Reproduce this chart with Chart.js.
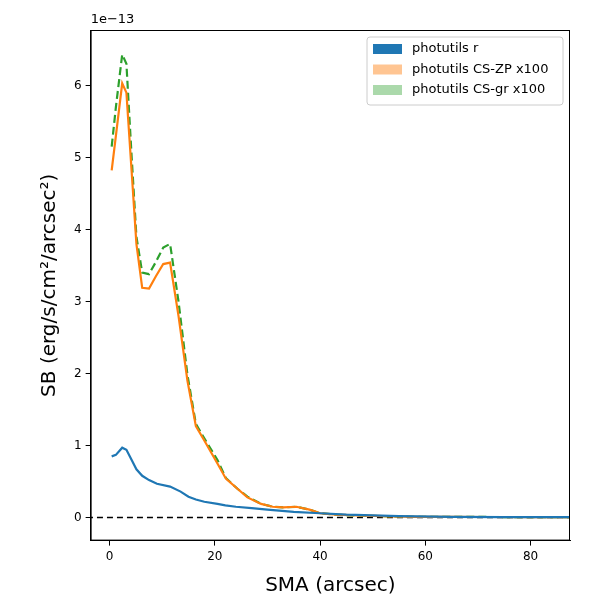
<!DOCTYPE html>
<html><head><meta charset="utf-8">
<script src="https://cdn.jsdelivr.net/npm/chart.js@4"></script>
<style>body{margin:0;background:#fff}#wrap{width:600px;height:600px}</style>
</head><body><div id="wrap"><canvas id="c"></canvas></div>
<script>
// values in units of 1e-13
const smaCS = [0.4, 1.2, 2.4, 3.2, 4.2, 5.1, 6.2, 7.5, 8.8, 10.2, 11.5, 13.1, 14.8, 16.4, 18, 20.5, 22.1, 24.3, 26.2, 28.8, 31, 33, 35.5, 38, 40, 43, 47, 52, 58, 65, 72, 80, 88];
const csZP = [4.82, 5.3, 6.03, 5.9, 4.8, 3.8, 3.19, 3.18, 3.35, 3.52, 3.54, 2.8, 1.9, 1.27, 1.07, 0.75, 0.54, 0.40, 0.28, 0.19, 0.15, 0.14, 0.15, 0.11, 0.06, 0.04, 0.03, 0.02, 0.01, 0.01, 0.008, 0.006, 0.005];
const csGR = [5.15, 5.7, 6.43, 6.3, 5.0, 3.9, 3.40, 3.38, 3.55, 3.75, 3.80, 3.0, 1.98, 1.30, 1.10, 0.80, 0.55, 0.40, 0.29, 0.19, 0.15, 0.14, 0.15, 0.11, 0.06, 0.04, 0.03, 0.02, 0.01, 0.01, 0.008, 0.006, 0.005];
const smaR = [0.4, 1.2, 2.4, 3.2, 4.2, 5.1, 6.2, 7.5, 9, 11.5, 13.5, 15, 16.4, 18, 20.5, 22, 24, 27, 30, 35, 40, 45, 55, 65, 75, 88];
const photR = [0.85, 0.87, 0.97, 0.94, 0.80, 0.67, 0.58, 0.52, 0.47, 0.43, 0.36, 0.29, 0.25, 0.22, 0.19, 0.17, 0.15, 0.13, 0.11, 0.08, 0.06, 0.04, 0.02, 0.01, 0.007, 0.005];
const yTicks = [0, 1, 2, 3, 4, 5, 6];
const xTicks = [0, 20, 40, 60, 80];

const pts = (xs, ys) => xs.map((x, i) => ({x: x, y: ys[i]}));

// frame, exponent label and legend, drawn by hand like matplotlib
const decor = {
  id: 'decor',
  afterDraw(chart) {
    const {ctx, chartArea: a} = chart;
    ctx.save();
    ctx.strokeStyle = '#000';
    ctx.lineWidth = 1;
    ctx.strokeRect(a.left + 0.5, a.top + 0.5, a.right - a.left - 1, a.bottom - a.top - 1);
    ctx.font = '13px DejaVu Sans';
    ctx.fillStyle = '#000';
    ctx.textBaseline = 'bottom';
    ctx.fillText('1e\u221213', a.left, a.top - 4);

    // legend
    const items = chart.data.datasets.filter(d => d.label !== 'zero');
    const lx = 367, ly = 37, lw = 196, lh = 68;
    ctx.fillStyle = 'rgba(255,255,255,0.85)';
    ctx.strokeStyle = '#ccc';
    ctx.beginPath();
    ctx.roundRect(lx, ly, lw, lh, 3);
    ctx.fill();
    ctx.stroke();
    ctx.textBaseline = 'middle';
    items.forEach((d, i) => {
      const y = ly + 12 + i * 20.5;
      ctx.fillStyle = d.backgroundColor;
      ctx.fillRect(lx + 6, y - 5, 29, 10);
      ctx.fillStyle = '#000';
      ctx.fillText(d.label, lx + 45, y);
    });
    ctx.restore();
  }
};

const axisTicks = {font: {family: 'DejaVu Sans', size: 12}, color: '#000', padding: 4};
const axisGrid = {display: true, drawOnChartArea: false, drawTicks: true, tickLength: 5, color: '#000'};

new Chart(document.getElementById('c'), {
  type: 'line',
  data: {
    datasets: [
      {label: 'photutils r', data: pts(smaR, photR), borderColor: '#1f77b4', backgroundColor: '#1f77b4', borderWidth: 2.2},
      {label: 'photutils CS-ZP x100', data: pts(smaCS, csZP), borderColor: '#ff7f0e', backgroundColor: 'rgba(255,127,14,0.45)', borderWidth: 2.2},
      {label: 'photutils CS-gr x100', data: pts(smaCS, csGR), borderColor: '#2ca02c', backgroundColor: 'rgba(44,160,44,0.4)', borderWidth: 2.2, borderDash: [8, 4]},
      {label: 'zero', data: [{x: -10, y: 0}, {x: 100, y: 0}], borderColor: '#000', borderWidth: 1.5, borderDash: [6, 4]}
    ]
  },
  options: {
    animation: false,
    responsive: true,
    maintainAspectRatio: false,
    layout: {padding: {top: 30, right: 30, left: 34, bottom: 2}},
    elements: {point: {radius: 0}, line: {tension: 0}},
    plugins: {legend: {display: false}, tooltip: {enabled: false}},
    scales: {
      x: {
        type: 'linear', min: -3.6, max: 87.5,
        afterBuildTicks: (ax) => { ax.ticks = xTicks.map(v => ({value: v})); },
        ticks: axisTicks,
        grid: axisGrid,
        border: {color: '#000', width: 1},
        title: {display: true, text: 'SMA (arcsec)', font: {family: 'DejaVu Sans', size: 20}, color: '#000', padding: {top: 6, bottom: 0}}
      },
      y: {
        min: -0.32, max: 6.77,
        afterBuildTicks: (ax) => { ax.ticks = yTicks.map(v => ({value: v})); },
        ticks: axisTicks,
        grid: axisGrid,
        border: {color: '#000', width: 1},
        title: {display: true, text: 'SB (erg/s/cm\u00b2/arcsec\u00b2)', font: {family: 'DejaVu Sans', size: 20}, color: '#000', padding: {bottom: 8}}
      }
    }
  },
  plugins: [decor]
});
</script></body></html>
